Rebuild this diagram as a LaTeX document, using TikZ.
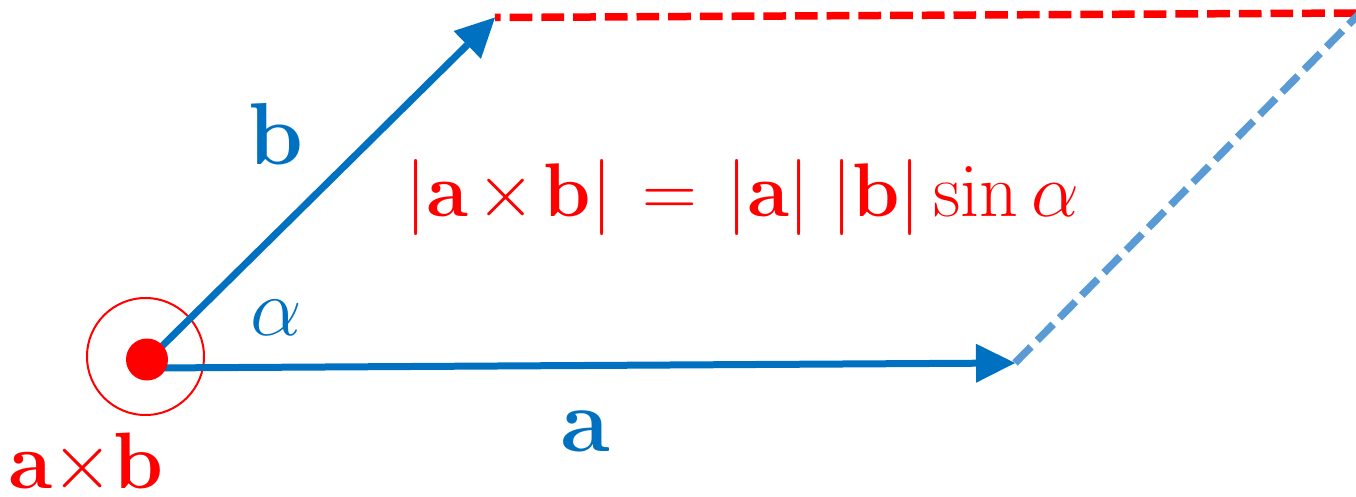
\RequirePackage{fix-cm}
\documentclass[tikz,border=0pt]{standalone}
\usetikzlibrary{arrows.meta}
\definecolor{vblue}{RGB}{0,112,192}
\definecolor{lblue}{RGB}{91,155,213}
\definecolor{vred}{RGB}{255,0,0}
\begin{document}
\begin{tikzpicture}[x=1pt,y=-1pt,
  vec/.style={draw=vblue,line width=7pt,-{Triangle[length=39pt,width=39pt,line width=0pt]}},
  reddash/.style={draw=vred,line width=7.5pt,dash pattern=on 22.7pt off 9pt,dash phase=17pt},
  bluedash/.style={draw=lblue,line width=7.5pt,dash pattern=on 22.7pt off 9pt},
  lbl/.style={inner sep=0pt,anchor=base}]
\useasboundingbox (0,0) rectangle (1356,497);
\coordinate (Oa) at (152,368);
\coordinate (Ob) at (147,361);
\coordinate (A) at (1015,363);
\coordinate (B) at (495,17.5);
\coordinate (C) at (1360,13);
\node[circle,draw=vred,line width=2pt,minimum size=117pt,inner sep=0pt] (ring) at (145.5,356.5) {};
\draw[reddash] (B) -- (C);
\draw[vec] (Oa) -- (A);
\draw[vec] (Ob) -- (B);
\draw[bluedash] (A) -- (C);
\node[circle,fill=vred,minimum size=42pt,inner sep=0pt] (dot) at (147,359.5) {};
\node[lbl,text=vblue,font=\fontsize{88pt}{90pt}\selectfont] (lb) at (276,165) {$\mathbf{b}$};
\node[lbl,text=vblue,font=\fontsize{90pt}{90pt}\selectfont] (la) at (585,451) {$\mathbf{a}$};
\node[lbl,text=vblue,font=\fontsize{82pt}{90pt}\selectfont] (lalpha) at (276,335) {$\alpha$};
\node[inner sep=0pt,anchor=base west,text=vred,font=\fontsize{76pt}{80pt}\selectfont] (form) at (405,216) {$|\mathbf{a}\mkern2mu{\times}\mkern2mu\mathbf{b}|\mkern2mu=\mkern2mu|\mathbf{a}|\;|\mathbf{b}|\sin\alpha$};
\node[lbl,text=vred,font=\fontsize{80pt}{90pt}\selectfont] (axb) at (86,488) {$\mathbf{a}{\times}\mathbf{b}$};
\end{tikzpicture}
\end{document}
